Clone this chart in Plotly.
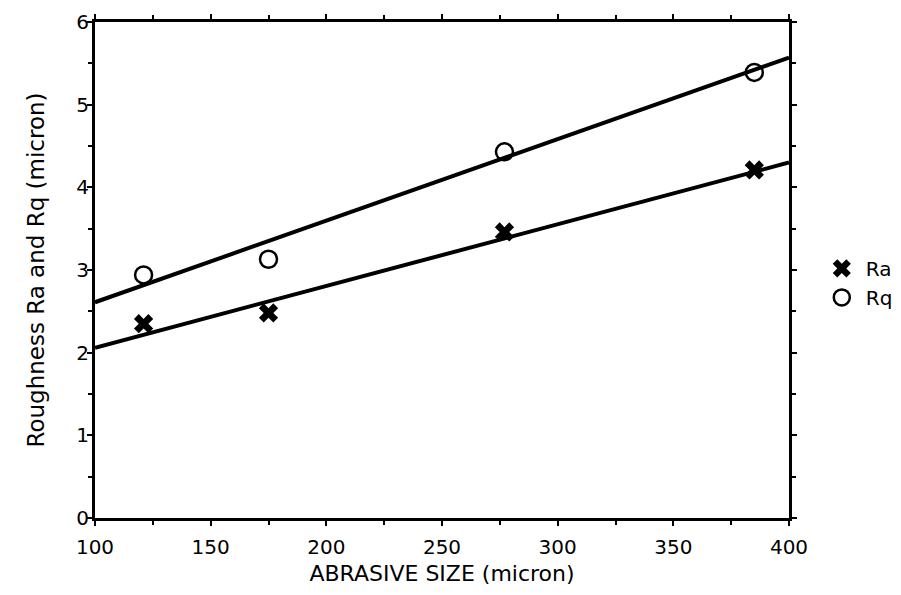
import plotly.graph_objects as go

abrasive_size = [121, 175, 277, 385]
ra_values = [2.35, 2.48, 3.46, 4.21]
rq_values = [2.94, 3.13, 4.43, 5.39]
fit_x = [100, 400]
ra_fit = [2.06, 4.30]
rq_fit = [2.61, 5.57]
x_ticks = [100, 150, 200, 250, 300, 350, 400]
y_ticks = [0, 1, 2, 3, 4, 5, 6]

fig = go.Figure()
fig.add_trace(go.Scatter(x=fit_x, y=rq_fit, mode="lines", line=dict(color="black", width=4),
                         showlegend=False, hoverinfo="skip"))
fig.add_trace(go.Scatter(x=fit_x, y=ra_fit, mode="lines", line=dict(color="black", width=4),
                         showlegend=False, hoverinfo="skip"))
fig.add_trace(go.Scatter(x=abrasive_size, y=ra_values, mode="markers", name="Ra",
                         marker=dict(symbol="x", size=17, color="black",
                                     line=dict(width=0))))
fig.add_trace(go.Scatter(x=abrasive_size, y=rq_values, mode="markers", name="Rq",
                         marker=dict(symbol="circle-open", size=17, color="black",
                                     line=dict(width=2.5, color="black"))))

font = "DejaVu Sans, Liberation Sans, Arial, sans-serif"
axis_common = dict(showgrid=False, zeroline=False, showline=True, linecolor="black",
                   linewidth=3, mirror="allticks", ticks="outside", ticklen=5,
                   tickwidth=2, tickcolor="black", automargin=False,
                   tickfont=dict(family=font, size=20, color="black"))
fig.update_xaxes(range=[100, 400], tickvals=x_ticks, ticktext=[str(v) for v in x_ticks],
                 minor=dict(dtick=25, tick0=100, ticks="outside", ticklen=4, tickwidth=2,
                            tickcolor="black"),
                 ticklabelstandoff=4,
                 title=dict(text="ABRASIVE SIZE (micron)",
                            font=dict(family=font, size=22, color="black"), standoff=8),
                 **axis_common)
fig.update_yaxes(range=[0, 6], tickvals=y_ticks, ticktext=[str(v) for v in y_ticks],
                 minor=dict(dtick=0.5, tick0=0, ticks="outside", ticklen=4, tickwidth=2,
                            tickcolor="black"),
                 ticklabelstandoff=-6,
                 title=dict(text="Roughness Ra and Rq (micron)",
                            font=dict(family=font, size=23, color="black"), standoff=26),
                 **axis_common)
fig.update_layout(width=901, height=595, paper_bgcolor="white", plot_bgcolor="white",
                  margin=dict(l=87, r=119, t=14, b=85),
                  legend=dict(x=1.040, y=0.474, xanchor="left", yanchor="middle",
                              font=dict(family=font, size=20, color="black"),
                              bgcolor="rgba(0,0,0,0)", itemwidth=38),
                  showlegend=True)
fig.write_html("out.html")
